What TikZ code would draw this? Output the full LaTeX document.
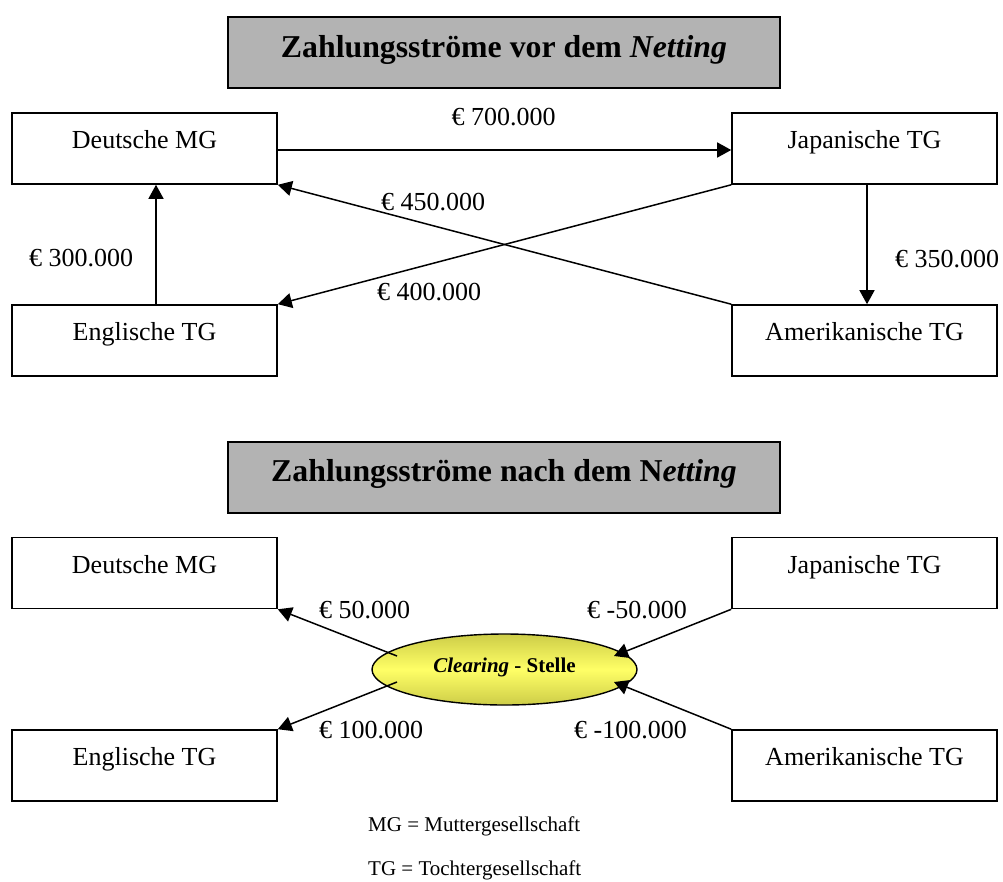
\documentclass[tikz,border=0pt]{standalone}
\usepackage{fontspec}
\setmainfont{Liberation Serif}
\usetikzlibrary{arrows.meta,shapes.geometric,calc}
\definecolor{headgray}{RGB}{179,179,179}
\definecolor{clearedge}{RGB}{205,205,72}
\definecolor{clearmid}{RGB}{255,255,102}

\begin{document}
\begin{tikzpicture}[x=1pt,y=-1pt,
  firm/.style={draw, line width=1.6pt, minimum width=265pt, minimum height=71pt,
    inner sep=0pt, font=\fontsize{26}{30}\selectfont, text height=18pt, text depth=18pt},
  heading/.style={draw, line width=2pt, fill=headgray, minimum width=552pt,
    minimum height=71pt, inner sep=0pt, font=\fontsize{31.8}{36}\selectfont\bfseries,
    text height=22pt, text depth=13pt},
  amount/.style={inner sep=0pt, font=\fontsize{26}{30}\selectfont},
  note/.style={inner sep=0pt, font=\fontsize{21}{25}\selectfont},
  flow/.style={line width=1.5pt, -{Triangle[length=14pt,width=15pt]}},
  hub/.style={ellipse, draw, line width=1.4pt, minimum width=265pt, minimum height=71pt,
    inner sep=0pt, top color=clearedge, bottom color=clearedge, middle color=clearmid,
    font=\fontsize{21}{25}\selectfont\bfseries, text height=15pt, text depth=10pt}
]
\useasboundingbox (0,0) rectangle (1003,881);

% ---------- before netting ----------
\node[heading] (t1) at (504,52.5) {Zahlungsströme vor dem \textit{Netting}};

\node[firm] (dmg1) at (144.5,148.5) {Deutsche MG};
\node[firm] (jtg1) at (864.5,148.5) {Japanische TG};
\node[firm] (etg1) at (144.5,340.5) {Englische TG};
\node[firm] (atg1) at (864.5,340.5) {Amerikanische TG};

\draw[flow] ([yshift=-1.5pt]dmg1.east) -- ([yshift=-1.5pt]jtg1.west);
\draw[flow] ([xshift=11.5pt]etg1.north) -- ([xshift=11.5pt]dmg1.south);
\draw[flow] ([xshift=2.5pt]jtg1.south) -- ([xshift=2.5pt]atg1.north);
\draw[flow] (atg1.north west) -- (dmg1.south east);
\draw[flow] (jtg1.south west) -- (etg1.north east);

\node[amount, anchor=base] (a700) at (503.5,125) {€ 700.000};
\node[amount, anchor=base west] (a450) at (381,210) {€ 450.000};
\node[amount, anchor=base west] (a300) at (29,266) {€ 300.000};
\node[amount, anchor=base west] (a400) at (377,300) {€ 400.000};
\node[amount, anchor=base west] (a350) at (895,267) {€ 350.000};

% ---------- after netting ----------
\node[heading] (t2) at (504,477) {Zahlungsströme nach dem N\textit{etting}};

\node[firm] (dmg2) at (144.5,573) {Deutsche MG};
\node[firm] (jtg2) at (864.5,573) {Japanische TG};
\node[firm] (etg2) at (144.5,765.5) {Englische TG};
\node[firm] (atg2) at (864.5,765.5) {Amerikanische TG};

\node[hub] (clr) at (504.5,669.5) {\textit{Clearing} - Stelle};

\coordinate (cUL) at ($(clr.center)+(-107.5,-13.5)$);
\coordinate (cLL) at ($(clr.center)+(-107.5,12.5)$);
\coordinate (cUR) at ($(clr.center)+(109.5,-13.5)$);
\coordinate (cLR) at ($(clr.center)+(109.5,12.5)$);

\draw[flow] (cUL) -- (dmg2.south east);
\draw[flow] (cLL) -- (etg2.north east);
\draw[flow] (jtg2.south west) -- (cUR);
\draw[flow] (atg2.north west) -- (cLR);

\node[amount, anchor=base west] (b50) at (319,618) {€ 50.000};
\node[amount, anchor=base west] (b100) at (319,738) {€ 100.000};
\node[amount, anchor=base east] (bm50) at (687,618) {€ -50.000};
\node[amount, anchor=base east] (bm100) at (687,738) {€ -100.000};

% ---------- abbreviations ----------
\node[note, anchor=base west] (n1) at (368,831) {MG = Muttergesellschaft};
\node[note, anchor=base west] (n2) at (368,875) {TG = Tochtergesellschaft};
\end{tikzpicture}
\end{document}
